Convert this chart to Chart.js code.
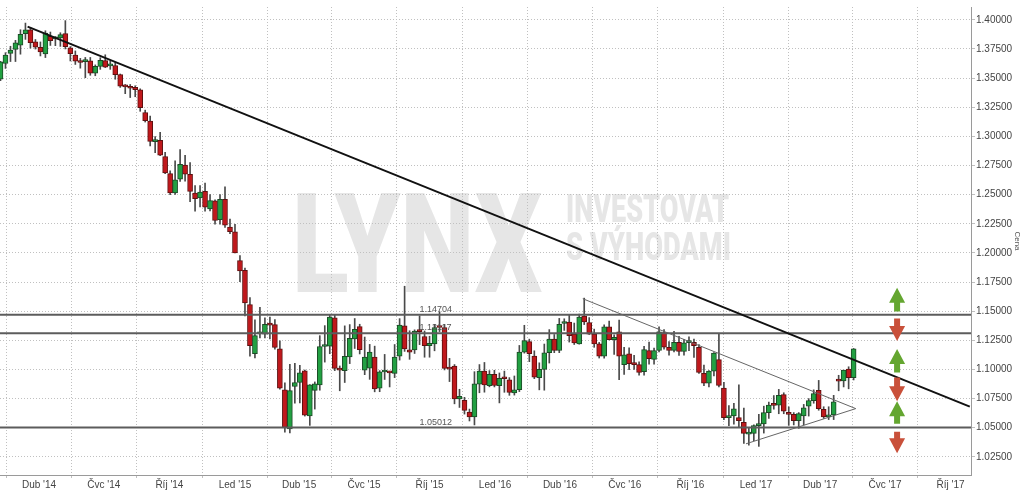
<!DOCTYPE html>
<html>
<head>
<meta charset="utf-8">
<script src="https://cdn.jsdelivr.net/npm/chart.js@4.4.1/dist/chart.umd.min.js"></script>
<style>
  html, body { margin: 0; padding: 0; background: #fff; }
  #wrap { width: 1024px; height: 492px; position: relative; }
</style>
</head>
<body>
<div id="wrap"><canvas id="myChart"></canvas></div>
<script>
// weekly EUR/USD candles, first week starts Monday 2014-02-03
const firstWeek = '2014-02-03';

const opens = [
  1.3490,1.3625,1.3712,1.3746,1.3783,1.3882,1.3915,1.3811,1.3763,1.3707,
  1.3859,1.3837,1.3845,1.3882,1.3760,1.3698,1.3636,1.3641,1.3647,1.3543,
  1.3600,1.3650,1.3605,1.3608,1.3530,1.3436,1.3430,1.3420,1.3400,1.3205,
  1.3131,1.2955,1.2965,1.2827,1.2680,1.2514,1.2632,1.2754,1.2675,1.2514,
  1.2471,1.2528,1.2378,1.2447,1.2286,1.2460,1.2222,1.2180,1.1935,1.1850,
  1.1556,1.1135,1.1305,1.1303,1.1390,1.1385,1.1177,1.0826,1.0489,1.0854,
  1.0888,1.0989,1.0601,1.0820,1.0868,1.1197,1.1200,1.1444,1.1003,1.0989,
  1.1107,1.1261,1.1368,1.0994,1.1010,1.1107,1.0840,1.0978,1.0975,1.0966,
  1.1115,1.1374,1.1168,1.1168,1.1335,1.1283,1.1205,1.1220,1.1368,1.1360,
  1.1008,1.1028,1.0747,1.0736,1.0635,1.0593,1.0874,1.0986,1.0860,1.0958,
  1.0860,1.0926,1.0910,1.0798,1.0826,1.1149,1.1239,1.1115,1.0930,1.1000,
  1.1143,1.1261,1.1163,1.1394,1.1407,1.1303,1.1220,1.1458,1.1402,1.1303,
  1.1220,1.1115,1.1365,1.1256,1.1323,1.1042,1.1135,1.1045,1.1042,1.0980,
  1.1163,1.1087,1.1163,1.1317,1.1190,1.1163,1.1233,1.1154,1.1230,1.1233,
  1.1190,1.0966,1.0882,1.0986,1.1084,1.0840,1.0587,1.0601,1.0587,1.0546,
  1.0445,1.0452,1.0518,1.0532,1.0629,1.0696,1.0694,1.0784,1.0629,1.0615,
  1.0560,1.0601,1.0685,1.0733,1.0820,1.0657,1.0593,1.0610,1.0904,1.0902,
  1.1003,1.0930
];
const highs = [
  1.3644,1.3718,1.3773,1.3824,1.3915,1.3972,1.3934,1.3831,1.3810,1.3906,
  1.3895,1.3856,1.3889,1.3993,1.3770,1.3733,1.3669,1.3677,1.3677,1.3613,
  1.3675,1.3700,1.3648,1.3635,1.3535,1.3445,1.3445,1.3434,1.3408,1.3225,
  1.3175,1.2998,1.3035,1.2863,1.2705,1.2791,1.2887,1.2837,1.2774,1.2578,
  1.2577,1.2600,1.2500,1.2456,1.2500,1.2567,1.2290,1.2245,1.1977,1.1870,
  1.1616,1.1425,1.1534,1.1443,1.1450,1.1428,1.1245,1.0885,1.1045,1.1052,
  1.1035,1.0995,1.0870,1.0893,1.1290,1.1376,1.1467,1.1466,1.1030,1.1374,
  1.1385,1.1437,1.1388,1.1278,1.1215,1.1200,1.0990,1.1129,1.0985,1.1214,
  1.1436,1.1714,1.1332,1.1340,1.1460,1.1330,1.1285,1.1387,1.1495,1.1387,
  1.1095,1.1042,1.0830,1.0761,1.0660,1.0981,1.1042,1.1060,1.0990,1.0993,
  1.0970,1.0986,1.0930,1.0944,1.1206,1.1379,1.1260,1.1160,1.1057,1.1218,
  1.1342,1.1300,1.1438,1.1435,1.1465,1.1398,1.1475,1.1612,1.1445,1.1346,
  1.1232,1.1383,1.1416,1.1298,1.1424,1.1189,1.1185,1.1121,1.1065,1.1198,
  1.1234,1.1184,1.1366,1.1342,1.1240,1.1327,1.1284,1.1258,1.1279,1.1260,
  1.1213,1.1038,1.0990,1.1145,1.1303,1.0890,1.0690,1.0710,1.0868,1.0668,
  1.0500,1.0525,1.0615,1.0685,1.0720,1.0776,1.0829,1.0800,1.0679,1.0630,
  1.0630,1.0700,1.0750,1.0825,1.0906,1.0680,1.0680,1.0778,1.0950,1.0994,
  1.1023,1.1180
];
const lows = [
  1.3477,1.3583,1.3642,1.3642,1.3705,1.3832,1.3757,1.3749,1.3690,1.3676,
  1.3780,1.3778,1.3772,1.3750,1.3647,1.3617,1.3585,1.3503,1.3524,1.3520,
  1.3575,1.3590,1.3575,1.3490,1.3420,1.3366,1.3333,1.3340,1.3215,1.3123,
  1.2919,1.2860,1.2835,1.2680,1.2500,1.2501,1.2614,1.2615,1.2440,1.2358,
  1.2394,1.2358,1.2360,1.2247,1.2246,1.2219,1.2165,1.2000,1.1754,1.1460,
  1.1114,1.1098,1.1270,1.1270,1.1262,1.1175,1.0830,1.0462,1.0455,1.0710,
  1.0713,1.0600,1.0520,1.0660,1.0822,1.1063,1.1135,1.0990,1.0817,1.0888,
  1.1050,1.1180,1.1133,1.0955,1.0915,1.0808,1.0809,1.0914,1.0850,1.0930,
  1.1080,1.1155,1.1087,1.1137,1.1213,1.1105,1.1105,1.1160,1.1325,1.0996,
  1.0896,1.0705,1.0674,1.0617,1.0558,1.0524,1.0800,1.0805,1.0851,1.0850,
  1.0713,1.0804,1.0778,1.0780,1.0810,1.1140,1.1067,1.0921,1.0825,1.0822,
  1.1055,1.1144,1.1144,1.1335,1.1235,1.1214,1.1217,1.1385,1.1300,1.1190,
  1.1098,1.1097,1.1253,1.1130,1.0912,1.0957,1.0999,1.1001,1.0952,1.0952,
  1.1046,1.1045,1.1150,1.1175,1.1122,1.1150,1.1120,1.1123,1.1161,1.1103,
  1.0966,1.0860,1.0851,1.0945,1.0851,1.0570,1.0517,1.0530,1.0505,1.0366,
  1.0351,1.0390,1.0340,1.0454,1.0580,1.0659,1.0620,1.0620,1.0520,1.0524,
  1.0495,1.0525,1.0600,1.0710,1.0650,1.0580,1.0570,1.0570,1.0817,1.0850,
  1.0834,1.0910
];
const closes = [
  1.3640,1.3697,1.3740,1.3803,1.3876,1.3915,1.3803,1.3766,1.3724,1.3887,
  1.3820,1.3844,1.3873,1.3769,1.3710,1.3645,1.3634,1.3647,1.3543,1.3600,
  1.3653,1.3594,1.3608,1.3530,1.3430,1.3425,1.3413,1.3400,1.3247,1.3134,
  1.2957,1.2962,1.2838,1.2686,1.2514,1.2627,1.2759,1.2675,1.2528,1.2466,
  1.2522,1.2393,1.2450,1.2278,1.2460,1.2239,1.2183,1.2000,1.1845,1.1570,
  1.1205,1.1290,1.1312,1.1388,1.1380,1.1190,1.0840,1.0503,1.0818,1.0888,
  1.0970,1.0607,1.0868,1.0876,1.1197,1.1202,1.1450,1.1009,1.0994,1.1112,
  1.1267,1.1345,1.1170,1.1107,1.1150,1.0834,1.0980,1.0982,1.0970,1.1107,
  1.1380,1.1177,1.1149,1.1330,1.1325,1.1205,1.1225,1.1360,1.1360,1.1009,
  1.1003,1.0747,1.0770,1.0649,1.0593,1.0876,1.0986,1.0868,1.0958,1.0862,
  1.0924,1.0920,1.0803,1.0826,1.1149,1.1247,1.1135,1.0933,1.1000,1.1143,
  1.1261,1.1163,1.1388,1.1398,1.1289,1.1228,1.1450,1.1407,1.1303,1.1220,
  1.1115,1.1365,1.1256,1.1275,1.1115,1.1126,1.1050,1.1042,1.0975,1.1170,
  1.1093,1.1163,1.1323,1.1191,1.1163,1.1233,1.1154,1.1228,1.1233,1.1205,
  1.0975,1.0882,1.0986,1.1140,1.0862,1.0587,1.0592,1.0663,1.0560,1.0452,
  1.0449,1.0518,1.0532,1.0629,1.0694,1.0692,1.0778,1.0643,1.0615,1.0560,
  1.0621,1.0671,1.0733,1.0792,1.0663,1.0593,1.0610,1.0722,1.0900,1.0994,
  1.0930,1.1177
];

// x axis: quarter labels
const quarterDates = ['2014-04-01','2014-07-01','2014-10-01','2015-01-01','2015-04-01','2015-07-01','2015-10-01',
  '2016-01-01','2016-04-01','2016-07-01','2016-10-01','2017-01-01','2017-04-01','2017-07-01','2017-10-01'];
const quarterLabels = ["Dub '14","Čvc '14","Říj '14","Led '15","Dub '15","Čvc '15","Říj '15",
  "Led '16","Dub '16","Čvc '16","Říj '16","Led '17","Dub '17","Čvc '17","Říj '17"];
const priceTicks = [1.025,1.05,1.075,1.1,1.125,1.15,1.175,1.2,1.225,1.25,1.275,1.3,1.325,1.35,1.375,1.4];

// support / resistance levels and drawn trendlines
const levels = [1.14704, 1.13117, 1.05012];
const mainTrend = [['2014-03-16', 1.3942], ['2017-10-28', 1.0681]];
const triangleTop = [['2016-05-03', 1.1607], ['2017-05-21', 1.0664]];
const triangleBottom = [['2016-12-18', 1.0362], ['2017-05-21', 1.0664]];
// up / down signal arrows on the right side: [direction, tip price, tail price]
const signals = [['up',1.1700,1.1498],['down',1.1244,1.1438],['up',1.1176,1.0974],
                 ['down',1.0728,1.0931],['up',1.0728,1.0534],['down',1.0280,1.0466]];

function dayOf(s) {
  const p = s.split('-').map(Number);
  return (Date.UTC(p[0], p[1] - 1, p[2]) - Date.UTC(2014, 0, 1)) / 86400000;
}
const startDay = dayOf(firstWeek);
const candleX = opens.map((o, i) => startDay + i * 7 + 3);

const upBodies = [], downBodies = [], wicks = [];
opens.forEach((o, i) => {
  const c = closes[i];
  wicks.push({ x: candleX[i], y: [lows[i], highs[i]] });
  if (c >= o) upBodies.push({ x: candleX[i], y: [o, c] });
  else downBodies.push({ x: candleX[i], y: [c, o] });
});

const toPts = arr => arr.map(p => ({ x: dayOf(p[0]), y: p[1] }));
const xMin = 35.3, xMax = 1397.7;

const gridColor = '#c0c0c0';
const tickFont = { family: 'Arial, "Liberation Sans", sans-serif', size: 10 };

const bgPlugin = {
  id: 'bg',
  beforeDraw(chart) {
    const ctx = chart.ctx;
    ctx.save();
    ctx.fillStyle = '#fff';
    ctx.fillRect(0, 0, chart.width, chart.height);
    ctx.fillStyle = '#e6e6e6';
    ctx.textBaseline = 'alphabetic';
    ctx.font = '900 140px Roboto, "Liberation Sans", Arial, sans-serif';
    ctx.fillText('LYNX', 292, 292, 250);
    ctx.font = '900 38px Roboto, "Liberation Sans", Arial, sans-serif';
    ctx.fillText('INVESTOVAT', 566, 222, 163);
    ctx.fillText('S VÝHODAMI', 566, 260, 165);
    ctx.restore();
  }
};

const overlayPlugin = {
  id: 'overlay',
  afterDatasetsDraw(chart) {
    const ctx = chart.ctx, xs = chart.scales.x, ys = chart.scales.y;
    ctx.save();
    ctx.font = '9px Arial, "Liberation Sans", sans-serif';
    ctx.fillStyle = '#555';
    ctx.textBaseline = 'bottom';
    const lx = xs.getPixelForValue(624);
    levels.forEach(v => ctx.fillText(v.toFixed(5), lx, ys.getPixelForValue(v) - 1));
    const ax = xs.getPixelForValue(1294);
    signals.forEach(s => {
      const tip = ys.getPixelForValue(s[1]), tail = ys.getPixelForValue(s[2]);
      const d = s[0] === 'up' ? 1 : -1;
      const neck = tip + d * 15;
      ctx.fillStyle = s[0] === 'up' ? '#64a630' : '#c9503a';
      ctx.beginPath();
      ctx.moveTo(ax, tip);
      ctx.lineTo(ax + 8, neck);
      ctx.lineTo(ax + 3, neck);
      ctx.lineTo(ax + 3, tail);
      ctx.lineTo(ax - 3, tail);
      ctx.lineTo(ax - 3, neck);
      ctx.lineTo(ax - 8, neck);
      ctx.closePath();
      ctx.fill();
    });
    ctx.restore();
  }
};

const lineDs = (data, color, width) => ({
  type: 'line', data: data, borderColor: color, borderWidth: width,
  pointRadius: 0, fill: false, tension: 0, order: 0
});

new Chart(document.getElementById('myChart'), {
  type: 'bar',
  data: {
    datasets: [
      lineDs(toPts(mainTrend), '#111', 2),
      lineDs(toPts(triangleTop), '#666', 1),
      lineDs(toPts(triangleBottom), '#666', 1),
      ...levels.map(v => lineDs([{ x: xMin, y: v }, { x: xMax, y: v }], '#5c5c5c', 2)),
      {
        data: upBodies, backgroundColor: '#22a042', borderColor: '#1c4a26', borderWidth: 1,
        borderSkipped: false, barThickness: 5, minBarLength: 2, grouped: false, order: 1
      },
      {
        data: downBodies, backgroundColor: '#c0181c', borderColor: '#5e1010', borderWidth: 1,
        borderSkipped: false, barThickness: 5, minBarLength: 2, grouped: false, order: 1
      },
      {
        data: wicks, backgroundColor: '#4a4a4a', borderWidth: 0,
        barThickness: 1, grouped: false, order: 2
      }
    ]
  },
  options: {
    responsive: true,
    maintainAspectRatio: false,
    animation: false,
    layout: { padding: 0 },
    plugins: { legend: { display: false }, tooltip: { enabled: false } },
    scales: {
      x: {
        type: 'linear', min: xMin, max: xMax, offset: false,
        afterBuildTicks: s => { s.ticks = quarterDates.map(d => ({ value: dayOf(d) })); },
        afterFit: s => { s.height = 17; },
        ticks: {
          autoSkip: false, maxRotation: 0, padding: 1, color: '#444', font: tickFont,
          callback: (v, i) => quarterLabels[i]
        },
        grid: { color: gridColor, tickLength: 3 },
        border: { display: true, color: '#9a9a9a', dash: [1, 2] }
      },
      y: {
        type: 'linear', position: 'right', min: 1.00944, max: 1.41099,
        afterBuildTicks: s => { s.ticks = priceTicks.map(v => ({ value: v })); },
        afterFit: s => { s.width = 53; },
        ticks: { padding: 1, color: '#444', font: tickFont, callback: v => v.toFixed(5) },
        grid: { color: gridColor, tickLength: 4 },
        border: { display: true, color: '#9a9a9a', dash: [1, 2] },
        title: {
          display: true, text: 'Cena', color: '#555',
          font: { family: 'Arial, "Liberation Sans", sans-serif', size: 8 },
          padding: { top: 2, bottom: 0 }
        }
      }
    }
  },
  plugins: [bgPlugin, overlayPlugin]
});
</script>
</body>
</html>
